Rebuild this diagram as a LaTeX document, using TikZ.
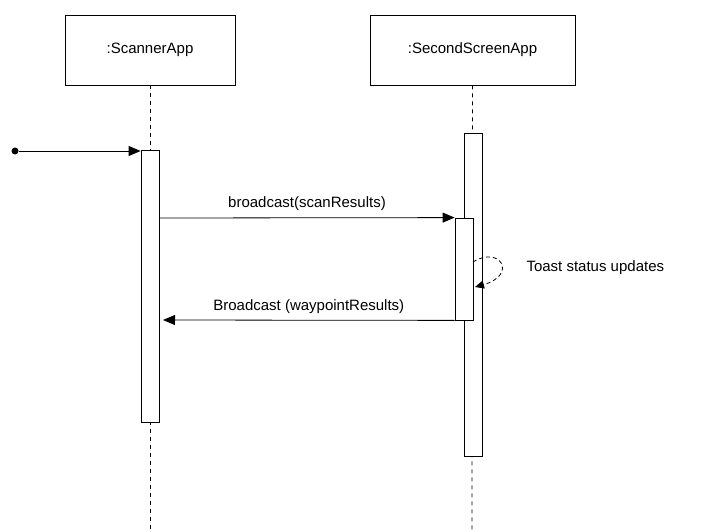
\documentclass[tikz,border=0pt]{standalone}
\usepackage{fontspec}
\setmainfont{Liberation Sans}
\usetikzlibrary{arrows.meta}
\begin{document}
\begin{tikzpicture}[x=1pt,y=-1pt,
  box/.style={draw,thick,fill=white,minimum width=#1,minimum height=70pt,inner sep=0,font=\fontsize{15}{18}\selectfont},
  act/.style={draw,thick,fill=white,minimum width=18pt,inner sep=0},
  life/.style={thick,dashed,dash pattern=on 4pt off 4pt},
  msg/.style={thick,-{Triangle[length=12pt,width=10pt]}},
  lbl/.style={font=\fontsize{15}{18}\selectfont}]
\useasboundingbox (0,0) rectangle (702,532);
\coordinate (l1e) at (150,532);
\coordinate (l2e) at (472,532);
\node[box=170pt] (A) at (150,50) {:ScannerApp};
\node[box=205pt] (B) at (472.5,50) {:SecondScreenApp};
\draw[life] (A.south) -- (l1e);
\draw[life] (B.south) -- (l2e);
\node[act,minimum height=272pt] (a1) at (150,286) {};
\node[act,minimum height=323pt] (b1) at (473,294.5) {};
\node[act,minimum height=102pt] (b2) at (464,269) {};
\node[circle,fill,inner sep=0,minimum size=7pt] (s) at (15,151) {};
\draw[msg] (s) -- (a1.north west |- s);
\draw[msg] (a1.east |- 0,218) -- node[lbl,above=3pt]{broadcast(scanResults)} (b2.north west);
\draw[msg] (b2.south west) -- node[lbl,above=3pt]{Broadcast (waypointResults)} (163,320);
\coordinate (t1) at (473,262);
\coordinate (t2) at (475,287);
\draw[thick,dashed,dash pattern=on 4pt off 3pt,-{Triangle[length=9pt,width=8pt]}] (t1) .. controls (500,245) and (518,275) .. (t2);
\node[lbl,anchor=west] (t) at (523,268) {Toast status updates};
\end{tikzpicture}
\end{document}
